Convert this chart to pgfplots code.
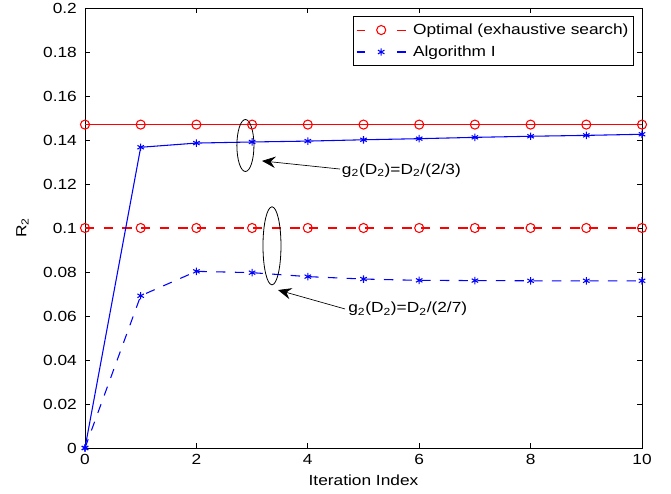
\documentclass[border=0pt]{standalone}
\usepackage{fontspec}
\setmainfont{Liberation Sans}[FakeStretch=1.18]
\usepackage{pgfplots}
\pgfplotsset{compat=1.18}
\usetikzlibrary{arrows.meta}

\begin{document}
\begin{tikzpicture}[font=\fontsize{11}{13.2}\selectfont]
\begin{axis}[
  scale only axis, width=417.75pt, height=330pt,
  xmin=0, xmax=10, ymin=0, ymax=0.2,
  xtick={0,2,4,6,8,10},
  xticklabels={0,2,4,6,8,10},
  ytick={0,0.02,0.04,0.06,0.08,0.1,0.12,0.14,0.16,0.18,0.2},
  yticklabels={0,0.02,0.04,0.06,0.08,0.1,0.12,0.14,0.16,0.18,0.2},
  tick align=inside, major tick length=3.75pt,
  axis line style={line width=0.6pt},
  every tick/.style={line width=0.6pt, black},
  yticklabel style={xshift=-2.6pt},
  xticklabel style={yshift=-1.5pt},
  xlabel={Iteration Index}, ylabel={R\textsubscript{2}},
  xlabel style={at={(axis description cs:0.5,-0.0727)}, anchor=center},
  ylabel style={at={(axis description cs:-0.1122,0.5)}, anchor=center},
  legend style={at={(1,1)}, anchor=north east, xshift=-5.8pt, yshift=-6pt,
    draw=black, line width=0.6pt, inner xsep=2pt, inner ysep=3.5pt, row sep=3pt,
    font=\fontsize{11}{13.2}\selectfont, cells={anchor=west},
    /tikz/every odd column/.append style={column sep=3pt}},
  legend cell align=left,
  legend image code/.code={
    \draw[solid] (0pt,0pt) -- (6.5pt,0pt);
    \draw[solid] (30.5pt,0pt) -- (37pt,0pt);
    \draw[mark repeat=2, mark phase=2, draw=none] plot coordinates {(0pt,0pt) (18.5pt,0pt) (37pt,0pt)};
  },
]
% Optimal, g2 = D2/(2/7) (dashed)
\addplot[red, line width=0.8pt, dash pattern=on 7pt off 7pt, mark=o, mark size=3.4pt, mark options={solid}]
  coordinates {(0,0.1) (1,0.1) (2,0.1) (3,0.1) (4,0.1) (5,0.1) (6,0.1) (7,0.1) (8,0.1) (9,0.1) (10,0.1)};
\addlegendentry{Optimal (exhaustive search)}
% Algorithm I, g2 = D2/(2/7) (dashed)
\addplot[blue, line width=0.8pt, dash pattern=on 7pt off 7pt, mark=asterisk, mark size=2.8pt, mark options={solid}]
  coordinates {(0,0) (1,0.0692) (2,0.0803) (3,0.0797) (4,0.0779) (5,0.0768) (6,0.0762) (7,0.0761) (8,0.0760) (9,0.0760) (10,0.0760)};
\addlegendentry{Algorithm I}
% Optimal, g2 = D2/(2/3) (solid)
\addplot[red, line width=0.8pt, mark=o, mark size=3.4pt, forget plot]
  coordinates {(0,0.147) (1,0.147) (2,0.147) (3,0.147) (4,0.147) (5,0.147) (6,0.147) (7,0.147) (8,0.147) (9,0.147) (10,0.147)};
% Algorithm I, g2 = D2/(2/3) (solid)
\addplot[blue, line width=0.8pt, mark=asterisk, mark size=2.8pt, forget plot]
  coordinates {(0,0) (1,0.1367) (2,0.1386) (3,0.1391) (4,0.1395) (5,0.1401) (6,0.1406) (7,0.1412) (8,0.1417) (9,0.1421) (10,0.1426)};

% annotations
\draw[black, line width=0.6pt] (axis cs:2.88,0.1375) ellipse [x radius=6.4pt, y radius=19.5pt];
\draw[black, line width=0.6pt] (axis cs:3.357,0.0919) ellipse [x radius=6.75pt, y radius=29.25pt];
\draw[black, line width=0.5pt, -{Stealth[length=10pt, width=8.5pt, inset=3.5pt]}] (axis cs:4.578,0.1268) -- (axis cs:3.178,0.1305);
\draw[black, line width=0.5pt, -{Stealth[length=10pt, width=8.5pt, inset=3.5pt]}] (axis cs:4.668,0.0632) -- (axis cs:3.465,0.0718);
\node[anchor=base west, inner sep=0pt] at (axis cs:4.609,0.1245) {g\textsubscript{2}(D\textsubscript{2})=D\textsubscript{2}/(2/3)};
\node[anchor=base west, inner sep=0pt] at (axis cs:4.722,0.0614) {g\textsubscript{2}(D\textsubscript{2})=D\textsubscript{2}/(2/7)};
\end{axis}
\pgfresetboundingbox
\path[use as bounding box] ([shift={(-63.75pt,-33.75pt)}]current axis.south west) rectangle ([shift={(21.75pt,6pt)}]current axis.north east);
\end{tikzpicture}
\end{document}
